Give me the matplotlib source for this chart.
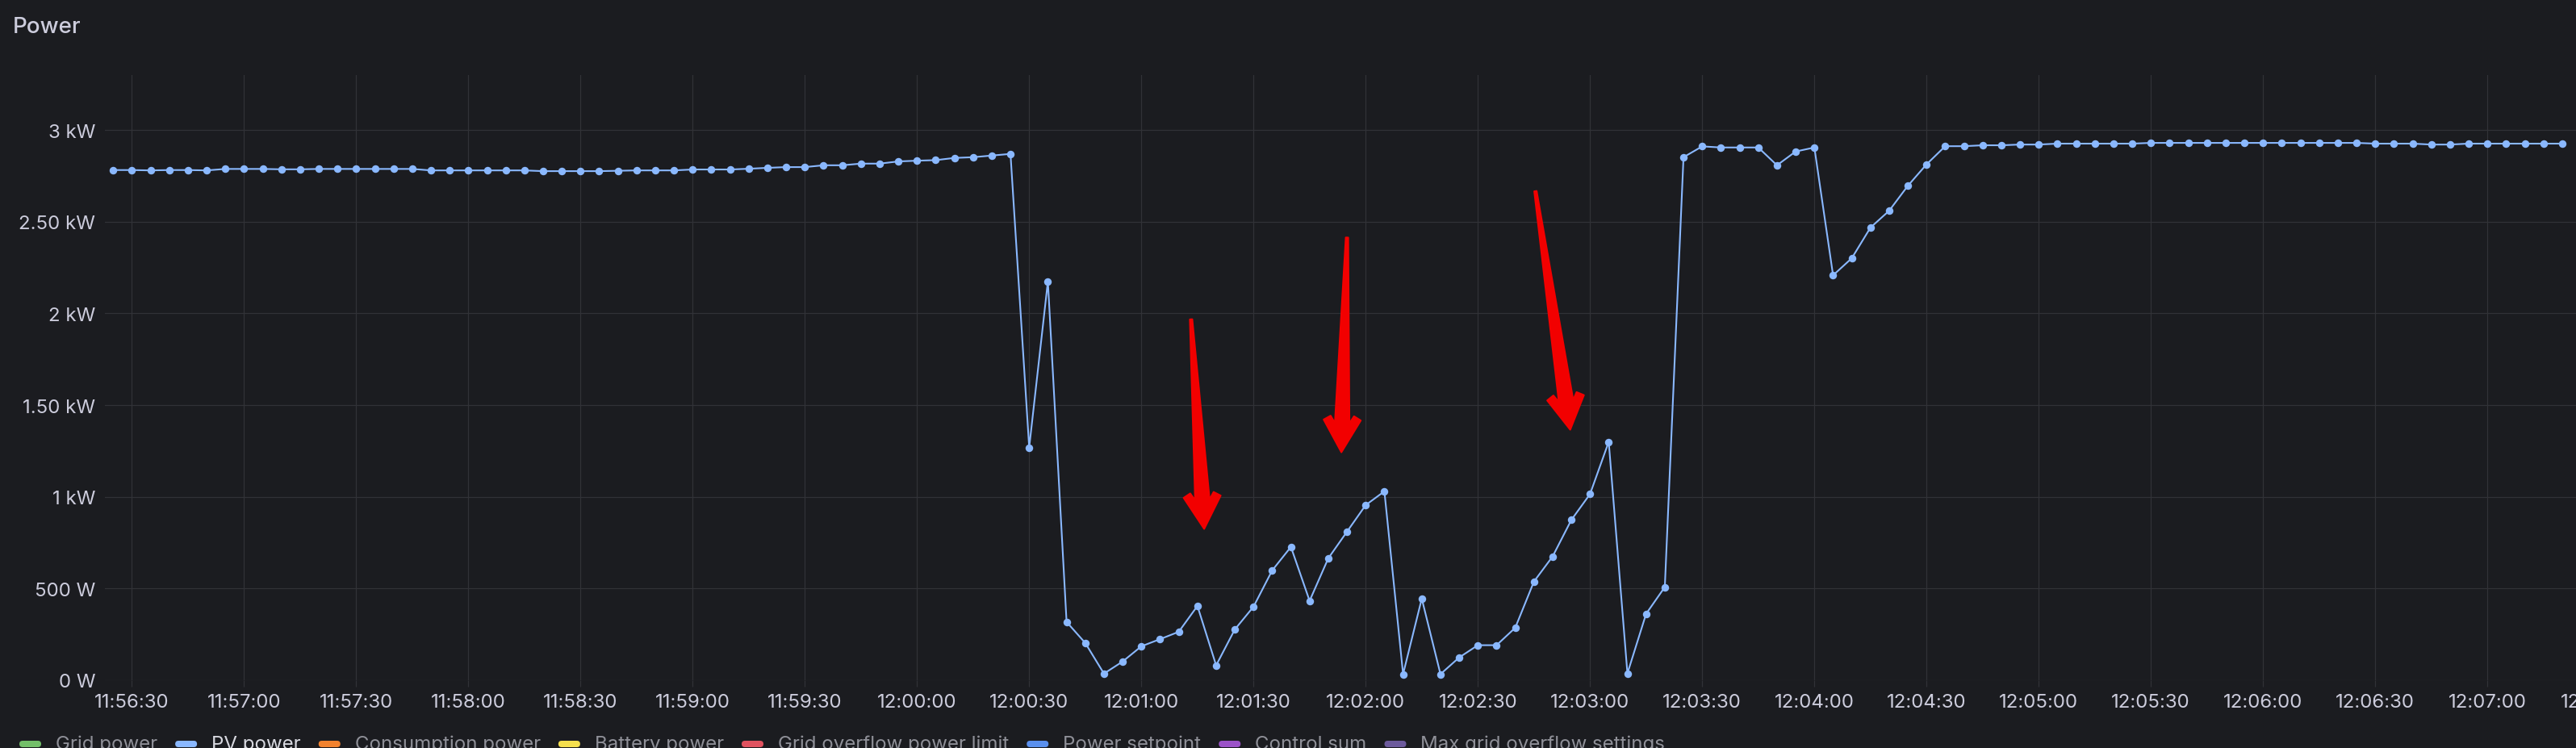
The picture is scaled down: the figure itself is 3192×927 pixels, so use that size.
import numpy as np
import pandas as pd
import matplotlib
matplotlib.use('Agg')
import matplotlib.pyplot as plt
import matplotlib.dates as mdates
import matplotlib.transforms as mtransforms
from matplotlib.patches import Polygon, FancyBboxPatch
from matplotlib.transforms import IdentityTransform
from matplotlib.ticker import MultipleLocator, FuncFormatter

# PV power in W, one sample every 5 s starting 11:56:25
pv_power = [
    2782, 2782, 2780, 2782, 2782, 2780, 2788, 2788, 2788, 2786,
    2786, 2788, 2788, 2788, 2788, 2788, 2788, 2780, 2780, 2780,
    2780, 2780, 2780, 2776, 2776, 2776, 2776, 2778, 2780, 2780,
    2780, 2785, 2785, 2785, 2789, 2794, 2798, 2798, 2808, 2808,
    2817, 2817, 2829, 2833, 2836, 2848, 2852, 2861, 2870,
    1269, 2175, 318, 203, 36, 102, 185, 224, 264, 405,
    81, 277, 401, 599, 727, 433, 665, 810, 955, 1030,
    33, 445, 33, 124, 191, 191, 286, 538, 675, 874,
    1015, 1300, 37, 362, 508,
    2852, 2911, 2905, 2905, 2905, 2808, 2883, 2905, 2208, 2301,
    2468, 2560, 2696, 2813,
    2912, 2912, 2917, 2917, 2921, 2921, 2926, 2926, 2926, 2926,
    2926, 2930, 2930, 2930, 2930, 2930, 2930, 2930, 2930, 2930,
    2930, 2930, 2930, 2926, 2926, 2926, 2921, 2921, 2926, 2926,
    2926, 2926, 2926, 2926,
]
times = pd.date_range('2024-01-01 11:56:25', periods=len(pv_power), freq='5s')

legend_names = ['Grid power', 'PV power', 'Consumption power', 'Battery power',
                'Grid overflow power limit', 'Power setpoint', 'Control sum',
                'Max grid overflow settings']
legend_colors = ['#73bf69', '#8ab8ff', '#f2822e', '#f5df4d', '#e0525f',
                 '#5a90ee', '#9b52c8', '#6c5a9c']

# red arrows drawn on the screenshot: (tail time, tail W, tip time, tip W)
arrows = [
    ('12:01:13.3', 1968, '12:01:16.8', 825),
    ('12:01:55.0', 2414, '12:01:53.5', 1243),
    ('12:02:45.4', 2667, '12:02:54.7', 1366),
]

BG = '#1b1c20'
GRID = '#313237'
TEXT = '#ccccdc'
LINE = '#8ab8ff'
W, H = 3192, 928

plt.rcParams['font.family'] = ['Inter', 'DejaVu Sans']

fig = plt.figure(figsize=(W / 100, H / 100), dpi=100, facecolor=BG)
ax = fig.add_axes([130 / W, (H - 844) / H, (W - 130) / W, (844 - 94) / H])
ax.set_facecolor(BG)

ax.plot(times, pv_power, color=LINE, lw=1.5, marker='o', ms=6.8,
        markeredgewidth=0, zorder=3)

ax.set_ylim(0, 3300)
ax.set_xlim(pd.Timestamp('2024-01-01 11:56:22.8'), pd.Timestamp('2024-01-01 12:07:23.7'))


def fmt_power(v, pos):
    if v < 1000:
        return f'{v:.0f} W'
    kw = v / 1000
    if kw.is_integer():
        return f'{int(kw)} kW'
    return f'{kw:.2f} kW'


ax.yaxis.set_major_locator(MultipleLocator(500))
ax.yaxis.set_major_formatter(FuncFormatter(fmt_power))
ax.xaxis.set_major_locator(mdates.SecondLocator(bysecond=[0, 30]))
ax.xaxis.set_major_formatter(mdates.DateFormatter('%H:%M:%S'))

ax.grid(True, color=GRID, lw=0.9)
ax.set_axisbelow(True)
for s in ax.spines.values():
    s.set_visible(False)
ax.tick_params(axis='y', length=0, pad=8.6, labelsize=17.3, labelcolor=TEXT)
ax.tick_params(axis='x', length=5.8, width=0.9, color=GRID, pad=6,
               labelsize=17.3, labelcolor=TEXT)

# the next time label, cut by the right edge of the panel
cut_tr = mtransforms.offset_copy(ax.get_xaxis_transform(), fig=fig, y=-11.8, units='points')
ax.text(mdates.date2num(pd.Timestamp('2024-01-01 12:07:30')), 0, '12:07:30',
        transform=cut_tr, ha='center', va='top', fontsize=17.3, color=TEXT,
        clip_on=False)

# annotation arrows (polygon built in pixel space)
for t0, v0, t1, v1 in arrows:
    p0 = ax.transData.transform((mdates.date2num(pd.Timestamp('2024-01-01 ' + t0)), v0))
    p1 = ax.transData.transform((mdates.date2num(pd.Timestamp('2024-01-01 ' + t1)), v1))
    d = p1 - p0
    L = np.hypot(*d)
    u = d / L
    n = np.array([-u[1], u[0]])
    local = [(0, -1.5), (L - 36, -9), (L - 45, -14.5), (L - 40, -23), (L, 0),
             (L - 40, 23), (L - 45, 14.5), (L - 36, 9), (0, 1.5)]
    pts = [p0 + a * u + b * n for a, b in local]
    fig.add_artist(Polygon(pts, closed=True, transform=IdentityTransform(),
                           facecolor='#f20000', edgecolor='#f20000', lw=1.5,
                           joinstyle='round', zorder=10))

fig.text(16 / W, 1 - 41 / H, 'Power', fontsize=20, color=TEXT,
         fontweight='medium', va='baseline', ha='left')

# legend row
renderer = fig.canvas.get_renderer()
x = 24
yc = H - 923
for name, col in zip(legend_names, legend_colors):
    fig.add_artist(FancyBboxPatch((x, yc - 4), 27, 8,
                                  boxstyle='round,pad=0,rounding_size=4',
                                  transform=IdentityTransform(),
                                  facecolor=col, edgecolor='none'))
    tcol = '#d8d9e0' if name == 'PV power' else '#8f9098'
    t = fig.text((x + 45) / W, yc / H, name, fontsize=17.3, color=tcol,
                 va='center', ha='left')
    x = t.get_window_extent(renderer).x1 + 22

fig.savefig('out.png', dpi=100, facecolor=BG)
